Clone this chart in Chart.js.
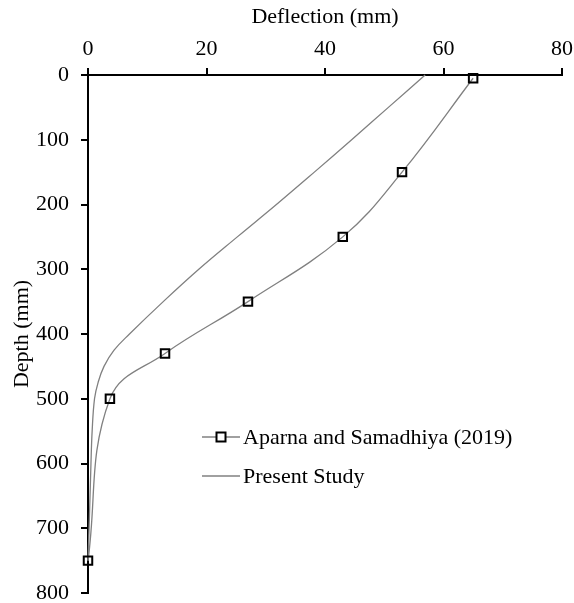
<!DOCTYPE html>
<html lang="en">
  <head>
    <meta charset="UTF-8" />
    <title>Deflection vs Depth</title>
    <script src="https://cdn.jsdelivr.net/npm/chart.js@4.4.1/dist/chart.umd.min.js"></script>
    <style>
      body { margin: 0; background: #fff; }
    </style>
  </head>
  <body>
    <canvas id="deflChart" width="574" height="603"></canvas>
    <script>
      // data
      const aparnaDeflection = [65, 53, 43, 27, 13, 3.7, 0];
      const aparnaDepth = [5, 150, 250, 350, 430, 500, 750];

      const presentDeflection = [56.9, 50.7, 44.5, 38.2, 31.8, 25.2, 18.7, 12.7, 7.0, 4.4, 2.7, 1.7, 1.1, 0.7, 0.5, 0.25, 0];
      const presentDepth = [0, 50, 100, 150, 200, 250, 300, 350, 400, 425, 450, 475, 500, 550, 600, 680, 750];

      const seriesLabels = ['Aparna and Samadhiya (2019)', 'Present Study'];
      const deflectionTicks = [0, 20, 40, 60, 80];
      const depthTicks = [0, 100, 200, 300, 400, 500, 600, 700, 800];

      function toPoints(xs, ys) {
        return xs.map((x, i) => ({ x: x, y: ys[i] }));
      }

      const serif = '"Liberation Serif", "Times New Roman", serif';

      // legend drawn inside the plot, like the original
      const insideLegend = {
        id: 'insideLegend',
        afterDraw(chart) {
          const ctx = chart.ctx;
          const rows = [437, 476];
          ctx.save();
          ctx.font = '22px ' + serif;
          ctx.textBaseline = 'middle';
          ctx.fillStyle = '#000';
          chart.data.datasets.forEach((ds, i) => {
            const y = rows[i];
            ctx.strokeStyle = ds.borderColor;
            ctx.lineWidth = ds.borderWidth;
            ctx.beginPath();
            ctx.moveTo(202, y);
            ctx.lineTo(240, y);
            ctx.stroke();
            if (ds.pointRadius > 0) {
              ctx.strokeStyle = ds.pointBorderColor;
              ctx.lineWidth = ds.pointBorderWidth;
              ctx.fillStyle = '#fff';
              ctx.fillRect(216.5, y - 4.5, 9, 9);
              ctx.strokeRect(216.5, y - 4.5, 9, 9);
              ctx.fillStyle = '#000';
            }
            ctx.fillText(ds.label, 243, y + 1);
          });
          ctx.restore();
        }
      };

      const ctx = document.getElementById('deflChart').getContext('2d');
      const myChart = new Chart(ctx, {
        type: 'scatter',
        data: {
          datasets: [
            {
              label: seriesLabels[0],
              data: toPoints(aparnaDeflection, aparnaDepth),
              showLine: true,
              clip: false,
              borderColor: '#808080',
              borderWidth: 1.3,
              tension: 0.4,
              pointStyle: 'rect',
              pointRadius: 6,
              pointBorderWidth: 2,
              pointBorderColor: '#000',
              pointBackgroundColor: 'rgba(0,0,0,0)'
            },
            {
              label: seriesLabels[1],
              data: toPoints(presentDeflection, presentDepth),
              showLine: true,
              clip: false,
              borderColor: '#808080',
              borderWidth: 1.3,
              tension: 0.4,
              pointRadius: 0
            }
          ]
        },
        options: {
          responsive: false,
          animation: false,
          layout: { padding: { left: 0, top: 0, right: 12, bottom: 10 } },
          plugins: {
            legend: { display: false },
            tooltip: { enabled: false }
          },
          scales: {
            x: {
              type: 'linear',
              position: 'top',
              min: 0,
              max: 80,
              afterFit: (s) => { s.height = 75; s.paddingLeft = 0; s.paddingRight = 0; },
              afterBuildTicks: (s) => { s.ticks = deflectionTicks.map(v => ({ value: v })); },
              grid: { drawOnChartArea: false, drawTicks: true, tickLength: 7, color: '#000', lineWidth: 2 },
              border: { color: '#000', width: 2 },
              ticks: { color: '#000', font: { family: serif, size: 22 }, padding: 6, maxRotation: 0 },
              title: { display: true, text: 'Deflection (mm)', color: '#000', font: { family: serif, size: 22 }, padding: { top: 4, bottom: 0 } }
            },
            y: {
              type: 'linear',
              reverse: true,
              min: 0,
              max: 800,
              afterFit: (s) => { s.width = 88; s.paddingTop = 0; s.paddingBottom = 0; },
              afterBuildTicks: (s) => { s.ticks = depthTicks.map(v => ({ value: v })); },
              grid: { drawOnChartArea: false, drawTicks: true, tickLength: 7, color: '#000', lineWidth: 2 },
              border: { color: '#000', width: 2 },
              ticks: { color: '#000', font: { family: serif, size: 22 }, padding: 12 },
              title: { display: true, text: 'Depth (mm)', color: '#000', font: { family: serif, size: 22 }, padding: { top: 9, bottom: 0 } }
            }
          }
        },
        plugins: [insideLegend]
      });
    </script>
  </body>
</html>
